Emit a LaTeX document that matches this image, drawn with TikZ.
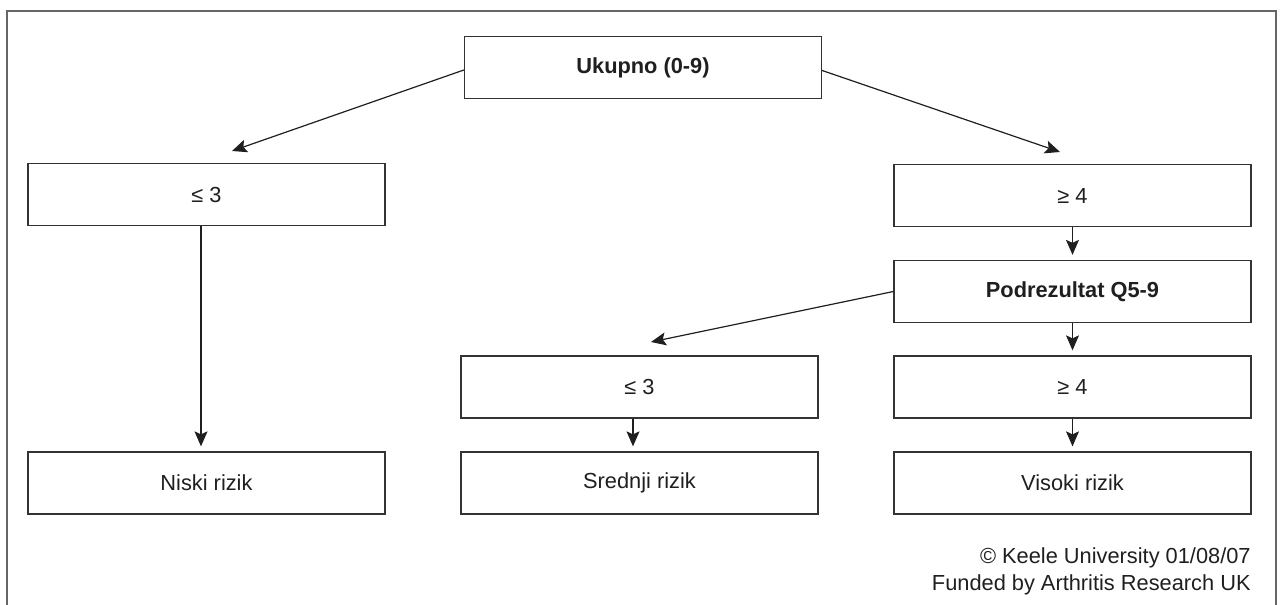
\documentclass[tikz,border=0pt]{standalone}
\usepackage{fontspec}
\setmainfont{Liberation Sans}
\usetikzlibrary{arrows.meta}
\begin{document}
\begin{tikzpicture}[x=0.5pt,y=-0.5pt]
\tikzstyle{every node}+=[inner sep=0pt,font=\fontsize{10.9}{13.5}\selectfont,text=black!88]
\tikzstyle{box}=[draw=black!80,line width=0.65pt,minimum width=178.5pt,minimum height=31pt]
\tikzstyle{arr}=[draw=black!88,line width=0.6pt,-{Stealth[length=7.5pt,width=6.5pt,inset=1.5pt]},shorten >=2.5pt]
\useasboundingbox (0,0) rectangle (1281,605);
\draw [black!60,line width=0.8pt] (7,605) -- (7,11) -- (1276,11) -- (1276,605);
\node [box] (tot) at (643,67.5) {\textbf{Ukupno (0-9)}};
\node [box] (lo) at (206.5,194.5) {≤ 3};
\node [box] (hi) at (1072.5,195.5) {≥ 4};
\node [box] (sub) at (1072.5,291.5) {\textbf{Podrezultat Q5-9}};
\node [box] (sublo) at (639.5,387) {≤ 3};
\node [box] (subhi) at (1072.5,387) {≥ 4};
\node [box] (niski) at (206.5,483) {Niski rizik};
\node [box] (srednji) at (639.5,483) {Srednji rizik};
\node [box] (visoki) at (1072.5,483) {Visoki rizik};
\coordinate (loin) at (232,151);
\coordinate (hiin) at (1060,152);
\coordinate (subloin) at (651,342);
\draw [arr,shorten >=0pt] ([yshift=-1.25pt]tot.west) -- (loin);
\draw [arr,shorten >=0pt] ([yshift=-1.5pt]tot.east) -- (hiin);
\draw [arr,shorten >=0pt] (sub.west) -- (subloin);
\draw [arr] ([xshift=-2.75pt]lo.south) -- ([xshift=-2.75pt]niski.north);
\draw [arr] (hi.south) -- (sub.north);
\draw [arr] (sub.south) -- (subhi.north);
\draw [arr] ([xshift=-3.25pt]sublo.south) -- ([xshift=-3.25pt]srednji.north);
\draw [arr] (subhi.south) -- (visoki.north);
\node [anchor=north east,align=right] (note) at (1251,547) {© Keele University 01/08/07\\Funded by Arthritis Research UK};
\end{tikzpicture}
\end{document}
